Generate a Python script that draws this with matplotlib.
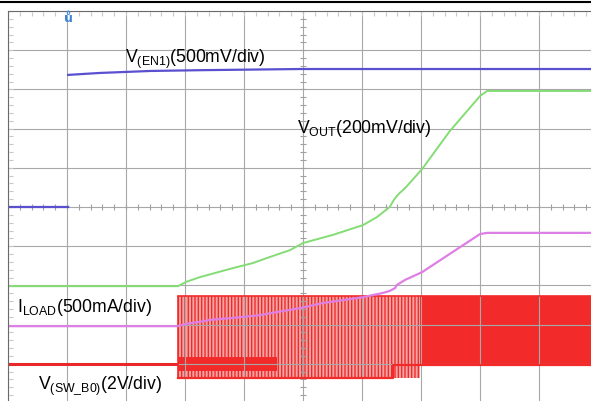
import numpy as np
import matplotlib
matplotlib.use("Agg")
import matplotlib.pyplot as plt
from matplotlib.lines import Line2D

plt.rcParams['font.family'] = ['Liberation Sans', 'DejaVu Sans']
plt.rcParams['mathtext.fontset'] = 'custom'
plt.rcParams['mathtext.rm'] = 'Liberation Sans'
plt.rcParams['hatch.linewidth'] = 1.0

# scope traces, in divisions (x: time div, y: vertical div from bottom)
en1_t = [0.0, 1.02, np.nan, 1.02, 1.56, 2.41, 3.25, 4.95, 10.0]
en1_v = [5.0, 5.0, np.nan, 8.37, 8.42, 8.47, 8.49, 8.52, 8.52]

vout_t = [0.0, 2.88, 3.02, 3.25, 3.81, 4.15, 4.39, 4.78, 5.0, 5.51, 6.02,
          6.25, 6.47, 6.54, 6.59, 6.64, 6.73, 7.02, 7.49, 8.0, 8.12, 10.0]
vout_v = [2.98, 2.98, 3.09, 3.21, 3.44, 3.57, 3.70, 3.90, 4.08, 4.29, 4.54,
          4.74, 5.0, 5.18, 5.28, 5.36, 5.48, 5.97, 6.94, 7.83, 7.96, 7.96]

iload_t = [0.0, 2.88, 3.02, 3.25, 3.42, 3.81, 4.27, 4.56, 4.95, 5.34, 6.02,
           6.36, 6.47, 6.56, 6.59, 6.73, 7.02, 8.0, 8.12, 10.0]
iload_v = [1.96, 1.96, 2.02, 2.07, 2.12, 2.17, 2.24, 2.32, 2.42, 2.55, 2.70,
           2.81, 2.86, 2.93, 3.01, 3.14, 3.34, 4.31, 4.34, 4.34]

# switch node: idle level, then switching envelope segments
sw_idle_t = [0.0, 2.88]
sw_idle_v = [1.0, 1.0]
sw_edges = [2.88, 6.53, 6.98, 10.0]
sw_high = [2.73, 2.73, 2.73]
sw_low = [0.64, 0.97, 0.97]
sw_burst_t = [2.88, 4.56]
sw_burst_low = 0.82
sw_burst_high = 1.17

fig = plt.figure(figsize=(5.91, 4.01), dpi=100)
ax = fig.add_axes([8 / 591, 1 - 11 / 401 - 392 / 401, 590 / 591, 392 / 401])
ax.set_xlim(0, 10)
ax.set_ylim(0, 10)
ax.set_xticks(range(11))
ax.set_yticks(range(11))
ax.tick_params(length=0, labelbottom=False, labelleft=False)
ax.grid(True, color='#a8a8a8', lw=0.8)
for s in ['right', 'bottom']:
  ax.spines[s].set_visible(False)
ax.spines['left'].set_color('#6a6a6a')
ax.spines['top'].set_color('#6a6a6a')

# graticule minor ticks
minor = np.arange(0, 10.01, 0.2)
ax.plot(minor, np.full_like(minor, 5.0), ls='none', marker='|', ms=5,
        color='#a0a0a0', mew=0.8)
ax.plot(np.full_like(minor, 5.0), minor, ls='none', marker='_', ms=5,
        color='#a0a0a0', mew=0.8)
ax.plot(minor, np.full_like(minor, 9.93), ls='none', marker='|', ms=2.5,
        color='#c8c8c8', mew=0.8)
ax.plot(np.full_like(minor, 0.05), minor, ls='none', marker='_', ms=2.5,
        color='#c8c8c8', mew=0.8)

red = '#f22a2a'
pale = '#f4a4a4'

# switching waveform
ax.plot(sw_idle_t, sw_idle_v, color='#e8282a', lw=2.2, solid_capstyle='butt')
ax.fill_between(sw_edges[:3], [sw_low[0], sw_low[0], sw_low[1]],
                [sw_high[0]] * 3, step='post', facecolor=pale,
                edgecolor=red, hatch='|||||', linewidth=0)
ax.fill_between(sw_edges[2:], sw_low[2], sw_high[2], facecolor=red,
                edgecolor=red, linewidth=0)
ax.fill_between(sw_burst_t, sw_burst_low, sw_burst_high, facecolor=red,
                edgecolor='none', linewidth=0)
ax.step(sw_edges, sw_low + [sw_low[-1]], where='post', color=red, lw=1.6)
ax.plot([sw_edges[0], sw_edges[-1]], [sw_high[0], sw_high[0]], color=red,
        lw=1.2)
ax.vlines(sw_edges[0], sw_low[0], sw_high[0], color=red, lw=1.2)

ax.plot(iload_t, iload_v, color='#dd7fe4', lw=1.6)
ax.plot(vout_t, vout_v, color='#84dc74', lw=1.4)
ax.plot(en1_t, en1_v, color='#5a50cf', lw=1.6)

# trigger marker
ax.text(1.02, 9.80, '\u016f', color='#3d86d6', fontsize=9, fontweight='bold',
        ha='center', va='center', family='DejaVu Sans')

fs = 12.7
ax.text(1.98, 8.67, r'$\mathregular{V_{(EN1)}}$(500mV/div)', fontsize=fs,
        va='baseline')
ax.text(4.90, 6.89, r'$\mathregular{V_{OUT}}$(200mV/div)', fontsize=fs,
        va='baseline')
ax.text(0.15, 2.32, r'$\mathregular{I_{LOAD}}$(500mA/div)', fontsize=fs,
        va='baseline')
ax.text(0.51, 0.36, r'$\mathregular{V_{(SW\_B0)}}$(2V/div)', fontsize=fs,
        va='baseline')

fig.add_artist(Line2D([0, 1], [1 - 2 / 401] * 2, color='black', lw=1.5))

fig.savefig('out.png', dpi=100)
